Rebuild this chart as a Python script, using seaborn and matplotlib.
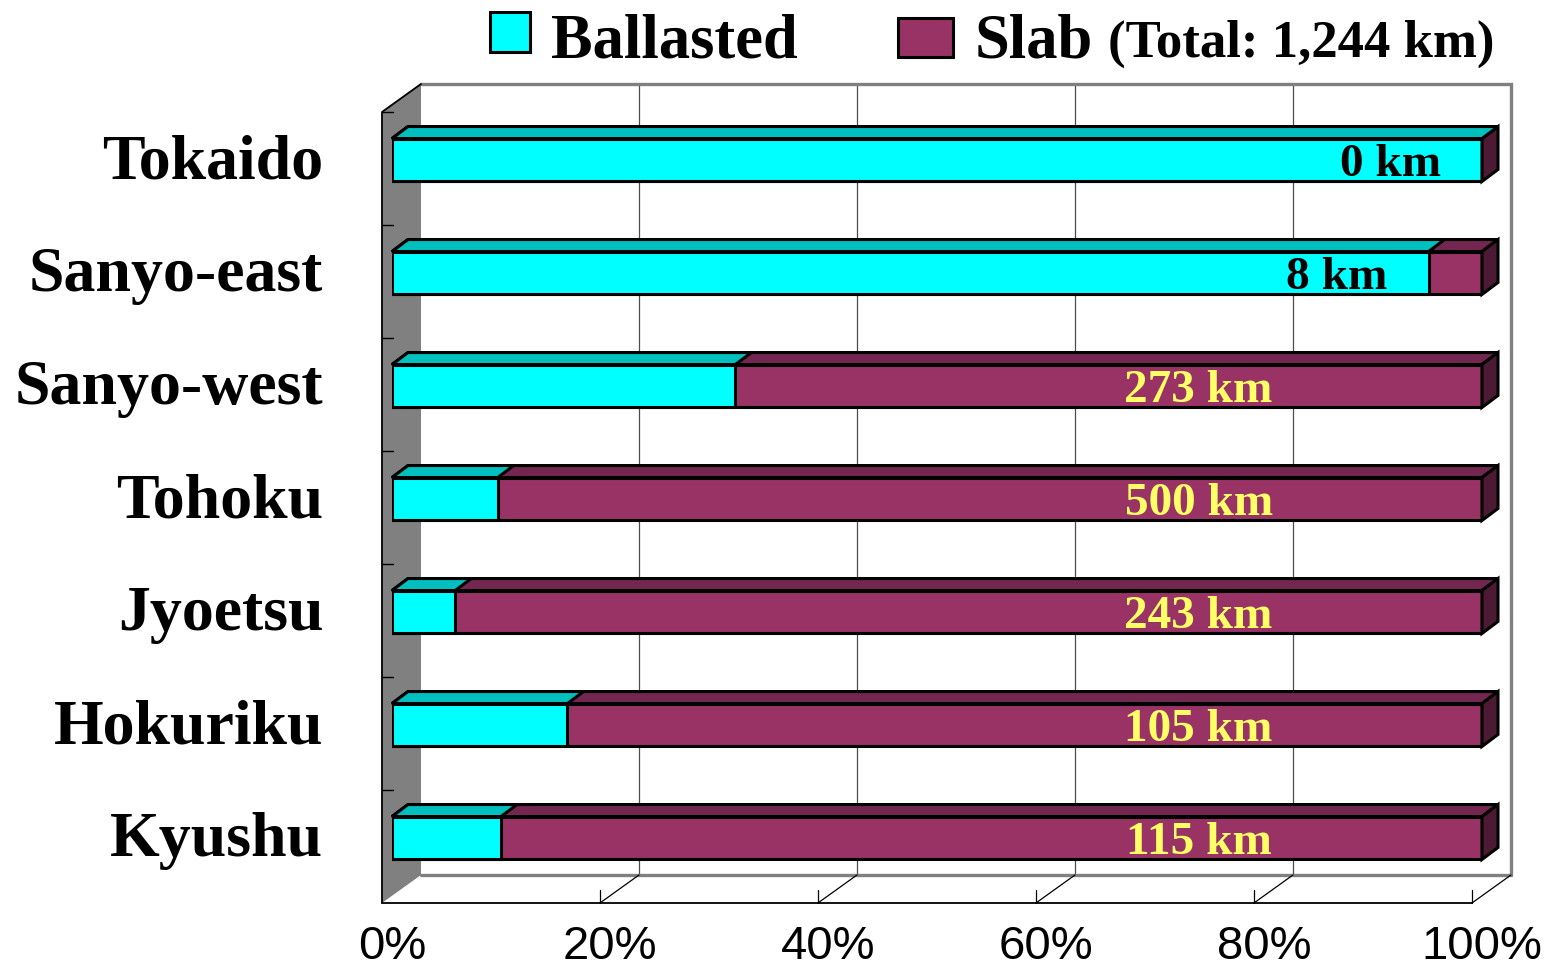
import numpy as np
import pandas as pd
import matplotlib
matplotlib.use("Agg")
import matplotlib.pyplot as plt
import seaborn as sns
from matplotlib.patches import Polygon, Rectangle

# ---------------- data ----------------
lines = ["Tokaido", "Sanyo-east", "Sanyo-west", "Tohoku", "Jyoetsu", "Hokuriku", "Kyushu"]
ballasted_pct = [100.0, 95.1, 31.5, 9.7, 5.8, 16.1, 10.0]
slab_km = [0, 8, 273, 500, 243, 105, 115]
xtick_values = [0, 20, 40, 60, 80, 100]
legend_labels = ["Ballasted", "Slab"]
total_note = "(Total: 1,244 km)"

# ---------------- style ----------------
CYAN, CYAN_TOP = "#00FFFF", "#00BFBF"
SLAB, SLAB_TOP, SLAB_SIDE = "#993366", "#732650", "#4D1A33"
WALL = "#808080"
YELLOW = "#FFFF66"
SERIF = ["Liberation Serif", "DejaVu Serif"]
SANS = ["Liberation Sans", "DejaVu Sans"]

W, H = 1552, 969
sns.set_theme(style="white")
plt.rcParams["font.family"] = SERIF
plt.rcParams["text.color"] = "black"

fig = plt.figure(figsize=(W / 100, H / 100), dpi=100)
ax_l, ax_r, ax_t, ax_b = 392, 1482, 60, 920
ax = fig.add_axes([ax_l / W, 1 - ax_b / H, (ax_r - ax_l) / W, (ax_b - ax_t) / H])

df = pd.DataFrame({"line": lines, "ballasted": ballasted_pct,
                   "total": [100.0] * len(lines)})

BAR_W = 0.38
sns.barplot(data=df, y="line", x="total", orient="h", color=SLAB, saturation=1,
            width=BAR_W, edgecolor="black", linewidth=2.2, ax=ax, zorder=5)
sns.barplot(data=df, y="line", x="ballasted", orient="h", color=CYAN, saturation=1,
            width=BAR_W, edgecolor="black", linewidth=2.2, ax=ax, zorder=6)

# pixel -> data conversions (x: 1090 px per 100 %, y: 113 px per category)
PX = 100 / (ax_r - ax_l)
PY = 1 / 113.0
ax.set_xlim(0, 100)
ax.set_ylim((ax_b - 160) * PY, (ax_t - 160) * PY)
ax.axis("off")

# 3-D depth offsets
DX, DY = 16 * PX, -12 * PY          # bar depth
FX, FY = -10 * PX, 7 * PY            # front plane of box
BX, BY = 29 * PX, -21 * PY           # back plane of box
YT, YB = -0.487, 6.513

# back wall
for v in xtick_values[1:-1]:
    ax.plot([v + BX, v + BX], [YT + BY, YB + BY], color="#4d4d4d", lw=0.9,
            clip_on=False, zorder=1)
ax.plot([BX, 100 + BX, 100 + BX], [YT + BY, YT + BY, YB + BY], color=WALL,
        lw=2.4, clip_on=False, zorder=1, solid_joinstyle="miter")
ax.plot([BX, 100 + BX], [YB + BY, YB + BY], color=WALL, lw=2.4,
        clip_on=False, zorder=1)

# left wall
ax.add_patch(Polygon([(FX, YT + FY), (BX, YT + BY), (BX, YB + BY), (FX, YB + FY)],
                     closed=True, facecolor=WALL, edgecolor="none",
                     clip_on=False, zorder=2))
ax.plot([BX, FX, FX], [YT + BY, YT + FY, YB + FY], color="black", lw=1.3,
        clip_on=False, zorder=3)
for k in range(len(lines)):
    ax.plot([FX, FX + 11 * PX], [YT + k + FY, YT + k + FY], color="black",
            lw=1.0, clip_on=False, zorder=3)

# floor
ax.plot([FX, 100 + FX], [YB + FY, YB + FY], color="black", lw=1.3,
        clip_on=False, zorder=3)
for v in xtick_values[1:]:
    ax.plot([v + FX, v + BX], [YB + FY, YB + BY], color="black", lw=0.9,
            clip_on=False, zorder=3)
    ax.plot([v + FX, v + FX], [YB + FY, YB + FY - 13 * PY], color="black",
            lw=0.9, clip_on=False, zorder=3)

# 3-D faces of bars
n = len(lines)
slab_patches = ax.patches[:n]
ball_patches = ax.patches[n:2 * n]
for p in slab_patches:
    x, y0, w, h = p.get_x(), p.get_y(), p.get_width(), p.get_height()
    ax.add_patch(Polygon([(x, y0), (x + w, y0), (x + w + DX, y0 + DY), (x + DX, y0 + DY)],
                         closed=True, facecolor=SLAB_TOP, edgecolor="black",
                         lw=2.2, joinstyle="miter", zorder=7, clip_on=False))
    ax.add_patch(Polygon([(x + w, y0), (x + w + DX, y0 + DY), (x + w + DX, y0 + h + DY),
                          (x + w, y0 + h)],
                         closed=True, facecolor=SLAB_SIDE, edgecolor="black",
                         lw=2.2, joinstyle="miter", zorder=7, clip_on=False))
for p in ball_patches:
    x, y0, w, h = p.get_x(), p.get_y(), p.get_width(), p.get_height()
    ax.add_patch(Polygon([(x, y0), (x + w, y0), (x + w + DX, y0 + DY), (x + DX, y0 + DY)],
                         closed=True, facecolor=CYAN_TOP, edgecolor="black",
                         lw=2.2, joinstyle="miter", zorder=8, clip_on=False))

# value labels
for i, (b, km) in enumerate(zip(ballasted_pct, slab_km)):
    if b > 50:
        ax.text(b - 3.8, i + 0.145, f"{km} km", ha="right", va="baseline",
                color="black", fontsize=34, fontweight="bold", family=SERIF, zorder=10)
    else:
        ax.text(74, i + 0.145, f"{km} km", ha="center", va="baseline",
                color=YELLOW, fontsize=34, fontweight="bold", family=SERIF, zorder=10)

# category labels
for i, name in enumerate(lines):
    ax.text(-6.3, i + 0.16, name, ha="right", va="baseline", fontsize=46,
            fontweight="bold", family=SERIF, color="black")

# x tick labels
for v in xtick_values:
    ax.text(v, (959 - 160) * PY, f"{v}%", ha="center", va="baseline",
            fontsize=34, family=SANS, color="black")

# legend
fig.add_artist(Rectangle((490 / W, 1 - 52 / H), 40 / W, 40 / H, transform=fig.transFigure,
                         facecolor=CYAN, edgecolor="black", lw=2.2))
fig.text(551 / W, 1 - 57 / H, legend_labels[0], fontsize=45, fontweight="bold",
         family=SERIF, va="baseline", ha="left", color="black")
fig.add_artist(Rectangle((898 / W, 1 - 57 / H), 55 / W, 39 / H, transform=fig.transFigure,
                         facecolor=SLAB, edgecolor="black", lw=2.2))
fig.text(975 / W, 1 - 57 / H, legend_labels[1], fontsize=45, fontweight="bold",
         family=SERIF, va="baseline", ha="left", color="black")
fig.text(1108 / W, 1 - 57 / H, total_note, fontsize=38, fontweight="bold",
         family=SERIF, va="baseline", ha="left", color="black")

fig.savefig("out.png", dpi=100, facecolor="white")
